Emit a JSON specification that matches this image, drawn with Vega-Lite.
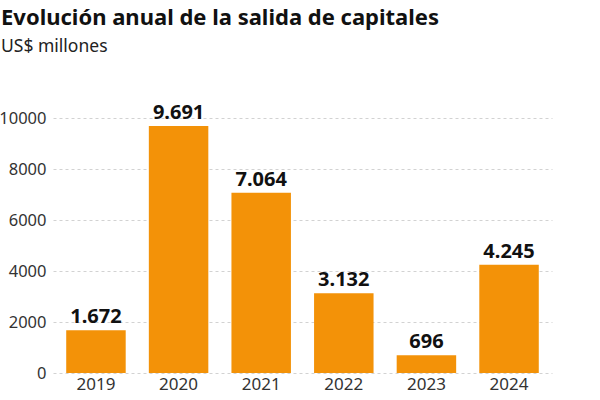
{
  "$schema": "https://vega.github.io/schema/vega-lite/v6.json",
  "width": 499,
  "height": 255,
  "autosize": {"type": "none"},
  "padding": {"left": 53, "top": 118, "right": 48, "bottom": 27},
  "background": "white",
  "config": {
    "locale": {
      "number": {"decimal": ",", "thousands": ".", "grouping": [3], "currency": ["$", ""]}
    },
    "view": {"stroke": null},
    "font": "Noto Sans"
  },
  "title": {
    "text": "Evolución anual de la salida de capitales",
    "subtitle": "US$ millones",
    "anchor": "start",
    "frame": "group",
    "dx": -52,
    "offset": 46,
    "font": "Noto Sans",
    "fontSize": 22,
    "fontWeight": "bold",
    "color": "#111111",
    "subtitleFont": "Noto Sans",
    "subtitleFontSize": 17.5,
    "subtitleColor": "#222222",
    "subtitlePadding": 8
  },
  "data": {
    "values": [
      {"year": "2019", "value": 1672},
      {"year": "2020", "value": 9691},
      {"year": "2021", "value": 7064},
      {"year": "2022", "value": 3132},
      {"year": "2023", "value": 696},
      {"year": "2024", "value": 4245}
    ]
  },
  "encoding": {
    "x": {
      "field": "year",
      "type": "nominal",
      "sort": null,
      "scale": {"paddingInner": 0.28, "paddingOuter": 0.16},
      "axis": {
        "title": null,
        "labelAngle": 0,
        "labelFontSize": 17,
        "labelColor": "#333333",
        "labelPadding": 3,
        "ticks": false,
        "domain": false
      }
    },
    "y": {
      "field": "value",
      "type": "quantitative",
      "scale": {"domain": [0, 10000], "nice": false},
      "axis": {
        "title": null,
        "values": [0, 2000, 4000, 6000, 8000, 10000],
        "format": "d",
        "labelFontSize": 16.5,
        "labelColor": "#333333",
        "labelPadding": 7,
        "ticks": false,
        "domain": false,
        "grid": true,
        "gridDash": [3, 3],
        "gridColor": "#d2d2d2",
        "gridWidth": 1
      }
    }
  },
  "layer": [
    {"mark": {"type": "bar", "color": "#F39208"}},
    {
      "mark": {
        "type": "text",
        "baseline": "bottom",
        "dy": -3,
        "fontSize": 20,
        "fontWeight": "bold",
        "color": "#111111"
      },
      "encoding": {
        "text": {"field": "value", "type": "quantitative", "format": ",d"}
      }
    }
  ]
}
